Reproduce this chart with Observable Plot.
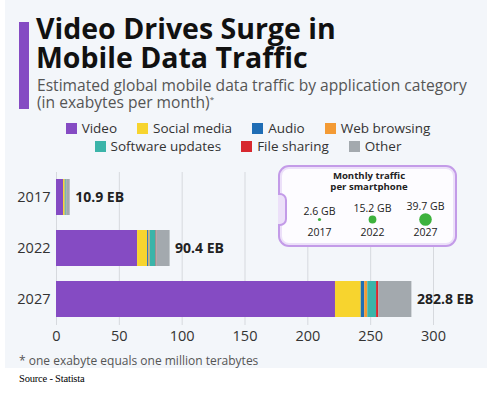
<!DOCTYPE html>
<html>
<head>
<meta charset="utf-8">
<script src="https://cdn.jsdelivr.net/npm/d3@7"></script>
<script src="https://cdn.jsdelivr.net/npm/@observablehq/plot@0.6"></script>
<style>
  html, body { margin: 0; padding: 0; background: #ffffff; }
  #wrap { position: relative; width: 496px; height: 393px; overflow: hidden; font-family: "Open Sans", sans-serif; }
  #panel { position: absolute; left: 5px; top: 0; width: 482px; height: 368px; background: #f3f6fa; }
  #accent { position: absolute; left: 19px; top: 22px; width: 10px; height: 87px; background: #854bc3; }
  .title { position: absolute; left: 36px; font-size: 28.5px; line-height: 28.5px; font-weight: 700; color: #111; white-space: nowrap; }
  .subtitle { position: absolute; left: 37px; font-size: 15.6px; line-height: 15.6px; color: #555; white-space: nowrap; }
  .subtitle sup { font-size: 8px; vertical-align: 6px; line-height: 0; }
  .legrow { position: absolute; left: 0; width: 496px; display: flex; justify-content: center; gap: 20px; font-size: 13.5px; color: #333; white-space: nowrap; }
  .legitem { display: flex; align-items: center; }
  .sw { width: 11px; height: 11px; margin-right: 5px; display: inline-block; }
  #chart { position: absolute; left: 0; top: 160px; }
  #phone { position: absolute; left: 278px; top: 165px; width: 175px; height: 78px; border: 2px solid #c39be8; border-radius: 11px; background: #fdfcff; box-shadow: inset 0 0 0 2px #ece0f9; }
  #notch { position: absolute; left: 278px; top: 193px; width: 7px; height: 29px; border: 2px solid #c39be8; border-left: none; border-radius: 0 7px 7px 0; background: #ece0f9; }
  #inset { position: absolute; left: 280px; top: 167px; }
  #foot { position: absolute; left: 19px; top: 352px; font-size: 12px; color: #555; white-space: nowrap; }
  #source { position: absolute; left: 19px; top: 373px; font-family: "Liberation Serif", serif; font-size: 10.5px; letter-spacing: -0.2px; color: #000; white-space: nowrap; }
</style>
</head>
<body>
<div id="wrap">
  <div id="panel"></div>
  <div id="accent"></div>
  <div class="title" style="top:13.5px">Video Drives Surge in</div>
  <div class="title" style="top:43px">Mobile Data Traffic</div>
  <div class="subtitle" style="top:77.7px">Estimated global mobile data traffic by application category</div>
  <div class="subtitle" style="top:94.7px">(in exabytes per month)<sup>*</sup></div>
  <div class="legrow" id="leg1" style="top:119px"></div>
  <div class="legrow" id="leg2" style="top:137px"></div>
  <div id="chart"></div>
  <div id="phone"></div>
  <div id="notch"></div>
  <div id="inset"></div>
  <div id="foot">* one exabyte equals one million terabytes</div>
  <div id="source">Source - Statista</div>
</div>
<script>
// ---- data ----
const years = ["2017", "2022", "2027"];
const categories = ["Video", "Social media", "Audio", "Web browsing", "Software updates", "File sharing", "Other"];
const colors = ["#854bc3", "#f7d42e", "#1f6db5", "#f39a34", "#3bb4a9", "#d7282f", "#a3a9ae"];
const video = [5.6, 64.5, 222.0];
const socialMedia = [1.2, 8.0, 20.5];
const audio = [0.2, 1.0, 2.8];
const webBrowsing = [0.4, 1.0, 2.4];
const softwareUpdates = [0.6, 4.8, 7.0];
const fileSharing = [0.1, 0.6, 1.8];
const other = [2.8, 10.5, 26.3];
const totals = [10.9, 90.4, 282.8];
const xTicks = [0, 50, 100, 150, 200, 250, 300];
const perPhoneGB = [2.6, 15.2, 39.7];
const insetTitle1 = "Monthly traffic";
const insetTitle2 = "per smartphone";
const legendRow1 = ["Video", "Social media", "Audio", "Web browsing"];
const legendRow2 = ["Software updates", "File sharing", "Other"];

// ---- legend ----
function fillLegend(id, names) {
  const el = document.getElementById(id);
  names.forEach(n => {
    const item = document.createElement("span");
    item.className = "legitem";
    const sw = document.createElement("span");
    sw.className = "sw";
    sw.style.background = colors[categories.indexOf(n)];
    item.appendChild(sw);
    item.appendChild(document.createTextNode(n));
    el.appendChild(item);
  });
}
fillLegend("leg1", legendRow1);
fillLegend("leg2", legendRow2);

// ---- main chart ----
const series = [video, socialMedia, audio, webBrowsing, softwareUpdates, fileSharing, other];
const rows = [];
years.forEach((y, i) => categories.forEach((c, j) => rows.push({year: y, category: c, value: series[j][i]})));
const totalRows = years.map((y, i) => ({year: y, total: totals[i]}));

const chart = Plot.plot({
  width: 496,
  height: 187,
  marginTop: 12,
  marginBottom: 22,
  marginLeft: 56,
  marginRight: 63,
  style: {background: "transparent", fontFamily: "Open Sans, sans-serif", color: "#333"},
  x: {domain: [0, 300], ticks: xTicks, tickSize: 0, tickPadding: 5, label: null, tickFormat: d => d},
  y: {domain: years, paddingInner: 0.29, paddingOuter: 0.12, tickSize: 0, tickPadding: 6, label: null},
  color: {domain: categories, range: colors},
  marks: [
    Plot.ruleX(xTicks, {stroke: "#d6d9de", strokeWidth: 1}),
    Plot.barX(rows, {x: "value", y: "year", fill: "category"}),
    Plot.text(totalRows, {x: "total", y: "year", text: d => d.total.toFixed(1) + " EB", textAnchor: "start", dx: 5, fontWeight: 700, fontSize: 14, fill: "#222"})
  ]
});
chart.querySelectorAll("g[aria-label$='tick label']").forEach(g => g.setAttribute("font-size", "14.5"));
document.getElementById("chart").appendChild(chart);

// ---- inset: monthly traffic per smartphone ----
const phoneRows = years.map((y, i) => ({year: y, gb: perPhoneGB[i]}));
const inset = Plot.plot({
  width: 175,
  height: 80,
  marginLeft: 38,
  marginRight: 30,
  marginTop: 0,
  marginBottom: 0,
  style: {background: "transparent", fontFamily: "Open Sans, sans-serif", color: "#222"},
  x: {type: "point", domain: years, padding: 0, axis: null},
  y: {domain: [0, 20], range: [52, 32], axis: null},
  r: {domain: [0, 39.7], range: [0, 6.3]},
  marks: [
    Plot.text([insetTitle1], {frameAnchor: "top", dy: 4.5, dx: -3, text: d => d, fontWeight: 700, fontSize: 9.6, fill: "#222"}),
    Plot.text([insetTitle2], {frameAnchor: "top", dy: 15.5, dx: -3, text: d => d, fontWeight: 700, fontSize: 9.6, fill: "#222"}),
    Plot.dot(phoneRows, {x: "year", y: () => 0, r: "gb", fill: "#3db23d", stroke: "none"}),
    Plot.text(phoneRows, {x: "year", y: d => Math.sqrt(d.gb) + 6.5, text: d => d.gb.toFixed(1) + " GB", fontSize: 10.5, fill: "#222"}),
    Plot.text(phoneRows, {x: "year", y: () => 0, text: "year", dy: 13, fontSize: 10.5, fill: "#222"})
  ]
});
document.getElementById("inset").appendChild(inset);
</script>
</body>
</html>
